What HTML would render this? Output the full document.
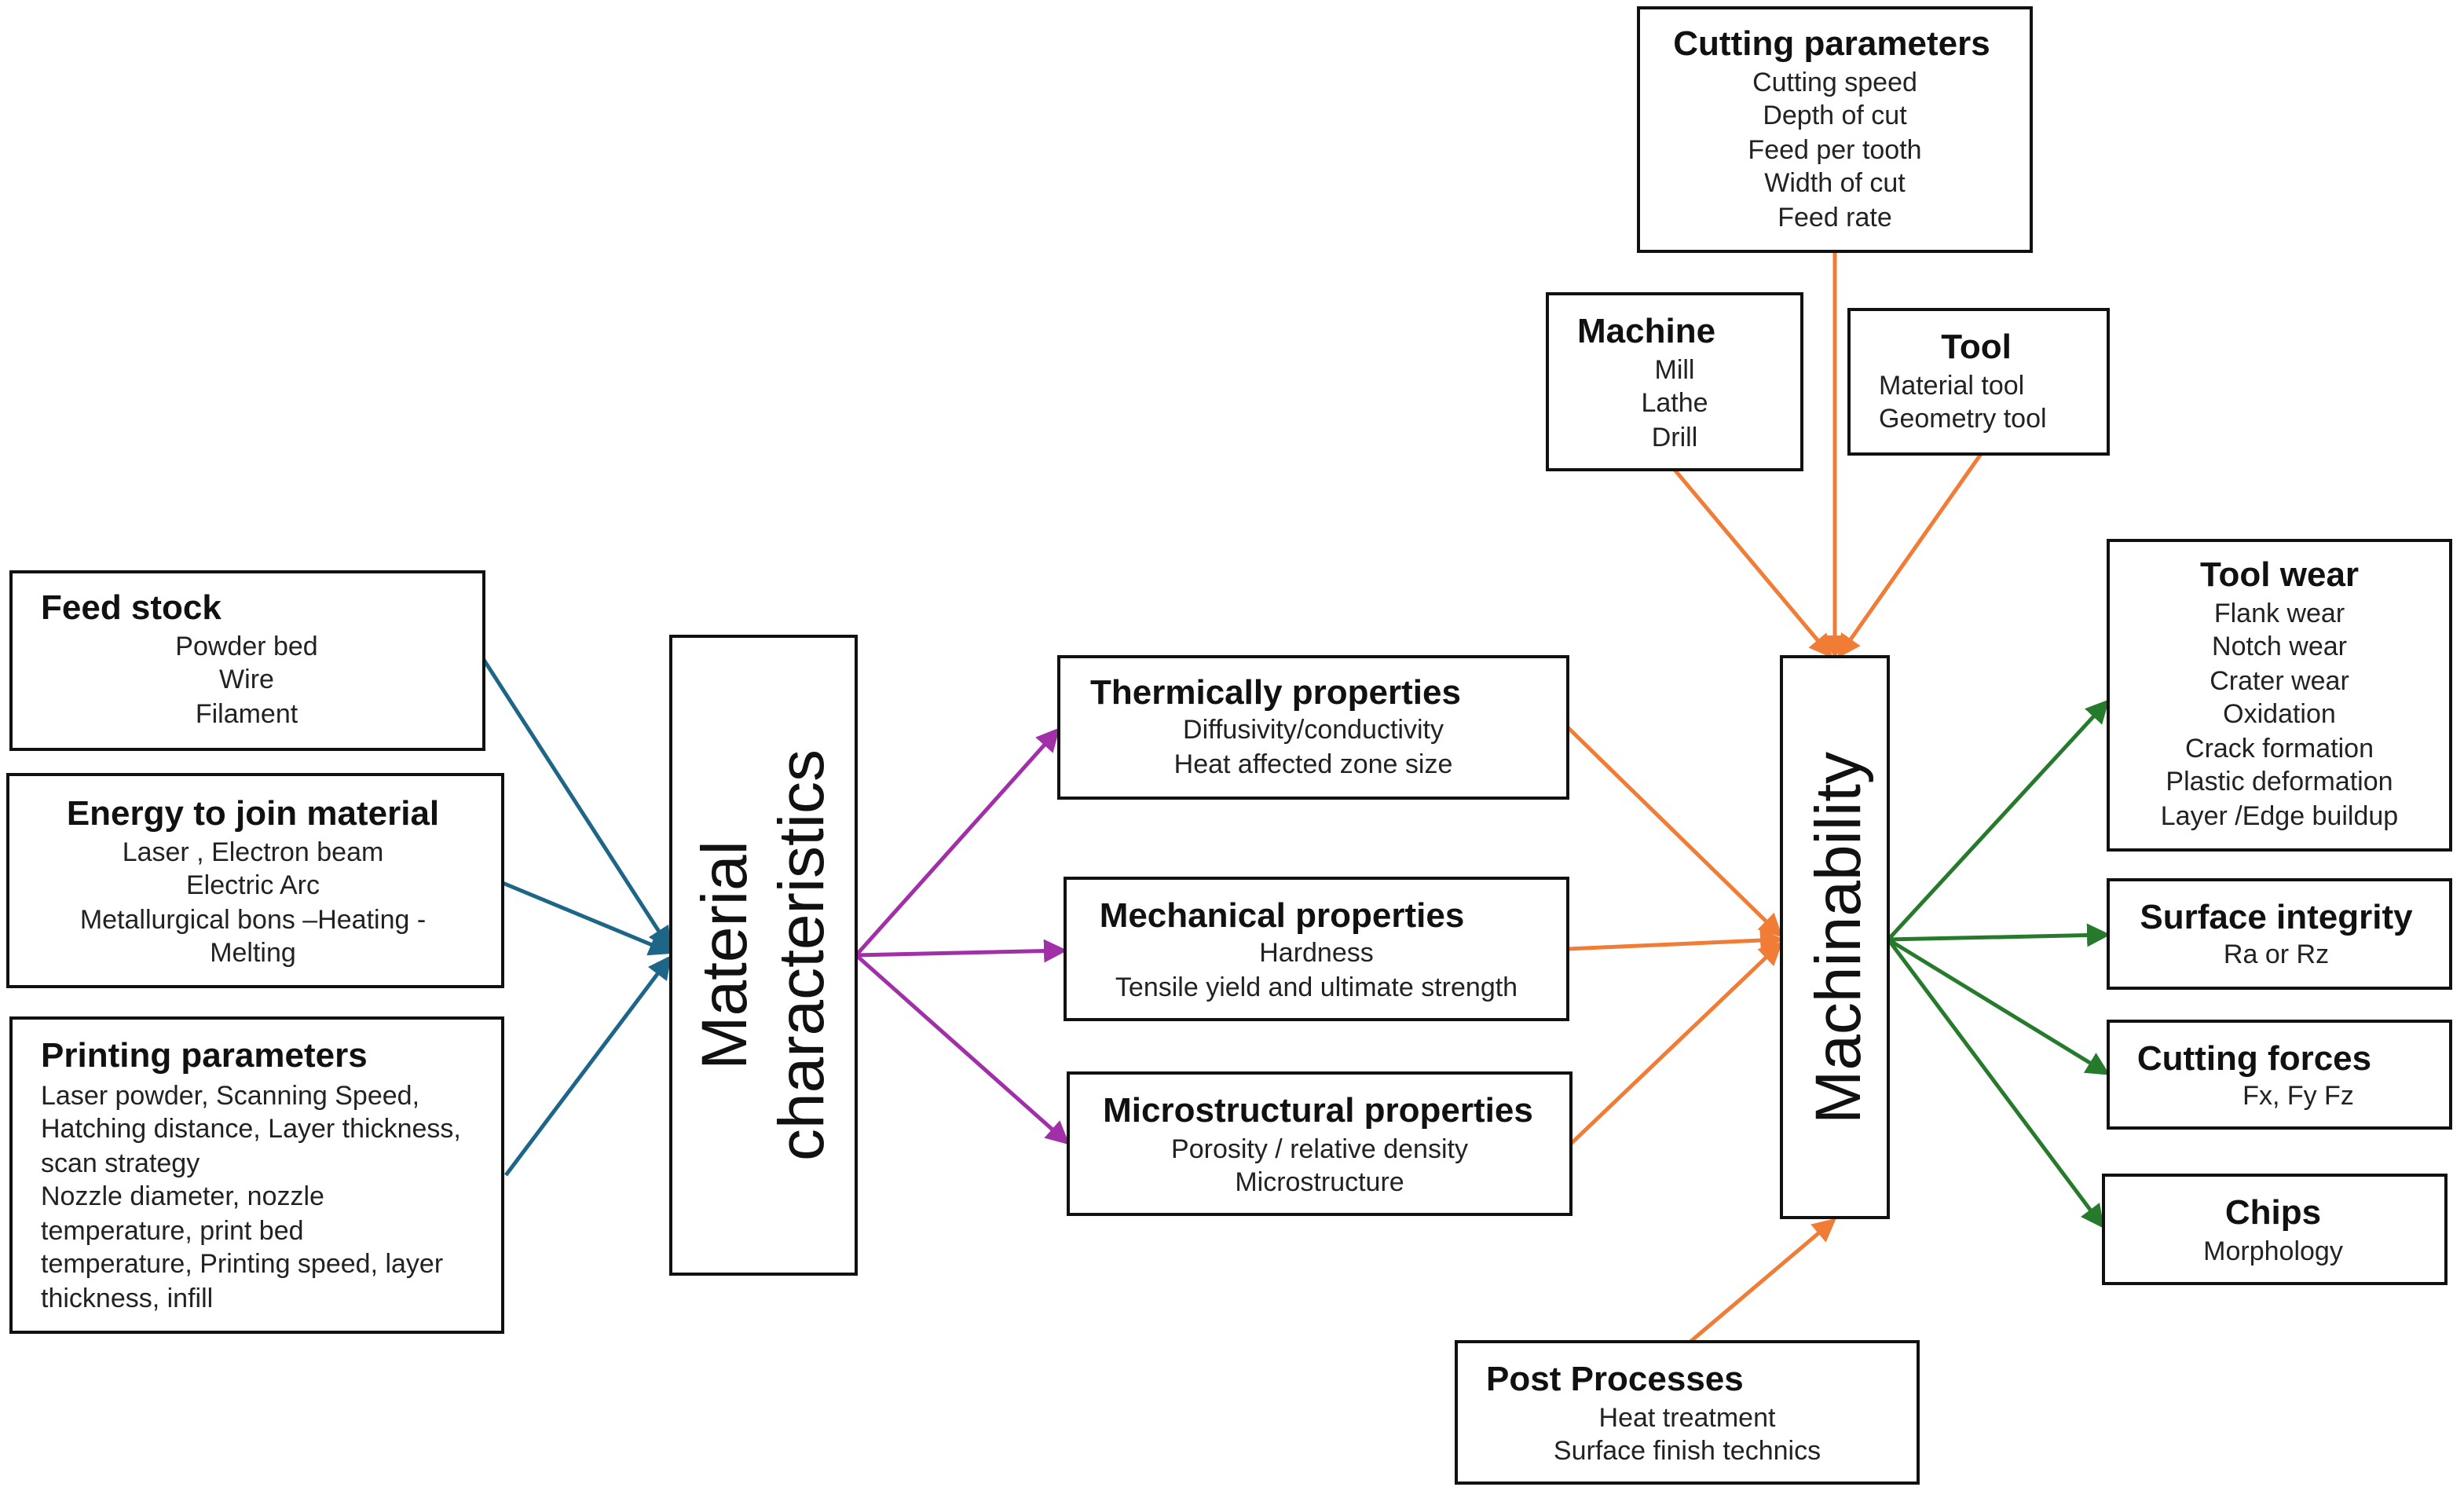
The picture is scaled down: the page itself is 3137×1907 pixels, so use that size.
<!DOCTYPE html>
<html><head><meta charset="utf-8"><style>
html,body{margin:0;padding:0;background:#fff}
svg{display:block}
text{font-family:"Liberation Sans",sans-serif;fill:#111}
.t{font-weight:bold;font-size:44px}
.b{font-size:34px;fill:#222}
.c{text-anchor:middle}
.r{fill:#fff;stroke:#111;stroke-width:4}
</style></head><body>
<svg width="3137" height="1907" viewBox="0 0 3137 1907" xmlns="http://www.w3.org/2000/svg">
<defs>
<marker id="mb" markerWidth="6" markerHeight="6" refX="5" refY="3" orient="auto" markerUnits="strokeWidth"><path d="M0,0 L6,3 L0,6 z" fill="#1d6687"/></marker>
<marker id="mp" markerWidth="6" markerHeight="6" refX="5" refY="3" orient="auto" markerUnits="strokeWidth"><path d="M0,0 L6,3 L0,6 z" fill="#a12fa8"/></marker>
<marker id="mo" markerWidth="6" markerHeight="6" refX="5" refY="3" orient="auto" markerUnits="strokeWidth"><path d="M0,0 L6,3 L0,6 z" fill="#f07c36"/></marker>
<marker id="mg" markerWidth="6" markerHeight="6" refX="5" refY="3" orient="auto" markerUnits="strokeWidth"><path d="M0,0 L6,3 L0,6 z" fill="#267a2c"/></marker>
</defs>
<g stroke="#1d6687" stroke-width="5" fill="none" marker-end="url(#mb)">
<line x1="616" y1="840" x2="852" y2="1206"/>
<line x1="640" y1="1124" x2="852" y2="1212"/>
<line x1="644" y1="1496" x2="852" y2="1220"/>
</g>
<g stroke="#a12fa8" stroke-width="5" fill="none" marker-end="url(#mp)">
<line x1="1090" y1="1216" x2="1346" y2="930"/>
<line x1="1090" y1="1216" x2="1354" y2="1210"/>
<line x1="1090" y1="1216" x2="1358" y2="1454"/>
</g>
<g stroke="#f07c36" stroke-width="5" fill="none" marker-end="url(#mo)">
<line x1="1996" y1="926" x2="2266" y2="1190"/>
<line x1="1996" y1="1208" x2="2266" y2="1196"/>
<line x1="2000" y1="1456" x2="2266" y2="1202"/>
<line x1="2132" y1="598" x2="2330" y2="834"/>
<line x1="2336" y1="320" x2="2336" y2="834"/>
<line x1="2522" y1="578" x2="2342" y2="834"/>
<line x1="2152" y1="1708" x2="2334" y2="1554"/>
</g>
<g stroke="#267a2c" stroke-width="5" fill="none" marker-end="url(#mg)">
<line x1="2404" y1="1196" x2="2682" y2="894"/>
<line x1="2404" y1="1196" x2="2682" y2="1190"/>
<line x1="2404" y1="1196" x2="2682" y2="1366"/>
<line x1="2404" y1="1196" x2="2676" y2="1560"/>
</g>
<rect class="r" x="14" y="728" width="602" height="226"/>
<rect class="r" x="10" y="986" width="630" height="270"/>
<rect class="r" x="14" y="1296" width="626" height="400"/>
<rect class="r" x="854" y="810" width="236" height="812"/>
<rect class="r" x="1348" y="836" width="648" height="180"/>
<rect class="r" x="1356" y="1118" width="640" height="180"/>
<rect class="r" x="1360" y="1366" width="640" height="180"/>
<rect class="r" x="2268" y="836" width="136" height="714"/>
<rect class="r" x="2086" y="10" width="500" height="310"/>
<rect class="r" x="1970" y="374" width="324" height="224"/>
<rect class="r" x="2354" y="394" width="330" height="184"/>
<rect class="r" x="2684" y="688" width="436" height="394"/>
<rect class="r" x="2684" y="1120" width="436" height="138"/>
<rect class="r" x="2684" y="1300" width="436" height="136"/>
<rect class="r" x="2678" y="1496" width="436" height="138"/>
<rect class="r" x="1854" y="1708" width="588" height="180"/>

<text class="t" x="52" y="788">Feed stock</text>
<text class="b c" x="314" y="834">Powder bed</text><text class="b c" x="314" y="876">Wire</text><text class="b c" x="314" y="920">Filament</text>

<text class="t c" x="322" y="1050">Energy to join material</text>
<text class="b c" x="322" y="1096">Laser , Electron beam</text>
<text class="b c" x="322" y="1138">Electric Arc</text>
<text class="b c" x="322" y="1182">Metallurgical bons –Heating -</text>
<text class="b c" x="322" y="1224">Melting</text>

<text class="t" x="52" y="1358">Printing parameters</text>
<text class="b" x="52" y="1406">Laser powder, Scanning Speed,</text>
<text class="b" x="52" y="1448">Hatching distance, Layer thickness,</text>
<text class="b" x="52" y="1492">scan strategy</text>
<text class="b" x="52" y="1534">Nozzle diameter, nozzle</text>
<text class="b" x="52" y="1578">temperature, print bed</text>
<text class="b" x="52" y="1620">temperature, Printing speed, layer</text>
<text class="b" x="52" y="1664">thickness, infill</text>

<g transform="translate(972,1216) rotate(-90)">
<text class="c" x="0" y="-22" style="font-size:82px">Material</text>
<text class="c" x="0" y="76" style="font-size:82px">characteristics</text>
</g>
<g transform="translate(2338,1194) rotate(-90)">
<text class="c" x="0" y="30" style="font-size:82px">Machinability</text>
</g>

<text class="t c" x="1624" y="896">Thermically properties</text>
<text class="b c" x="1672" y="940">Diffusivity/conductivity</text>
<text class="b c" x="1672" y="984">Heat affected zone size</text>

<text class="t c" x="1632" y="1180">Mechanical properties</text>
<text class="b c" x="1676" y="1224">Hardness</text>
<text class="b c" x="1676" y="1268">Tensile yield and ultimate strength</text>

<text class="t c" x="1678" y="1428">Microstructural properties</text>
<text class="b c" x="1680" y="1474">Porosity / relative density</text>
<text class="b c" x="1680" y="1516">Microstructure</text>

<text class="t c" x="2332" y="70">Cutting parameters</text>
<text class="b c" x="2336" y="116">Cutting speed</text>
<text class="b c" x="2336" y="158">Depth of cut</text>
<text class="b c" x="2336" y="202">Feed per tooth</text>
<text class="b c" x="2336" y="244">Width of cut</text>
<text class="b c" x="2336" y="288">Feed rate</text>

<text class="t" x="2008" y="436">Machine</text>
<text class="b c" x="2132" y="482">Mill</text>
<text class="b c" x="2132" y="524">Lathe</text>
<text class="b c" x="2132" y="568">Drill</text>

<text class="t c" x="2516" y="456">Tool</text>
<text class="b" x="2392" y="502">Material tool</text>
<text class="b" x="2392" y="544">Geometry tool</text>

<text class="t c" x="2902" y="746">Tool wear</text>
<text class="b c" x="2902" y="792">Flank wear</text>
<text class="b c" x="2902" y="834">Notch wear</text>
<text class="b c" x="2902" y="878">Crater wear</text>
<text class="b c" x="2902" y="920">Oxidation</text>
<text class="b c" x="2902" y="964">Crack formation</text>
<text class="b c" x="2902" y="1006">Plastic deformation</text>
<text class="b c" x="2902" y="1050">Layer /Edge buildup</text>

<text class="t c" x="2898" y="1182">Surface integrity</text>
<text class="b c" x="2898" y="1226">Ra or Rz</text>

<text class="t c" x="2870" y="1362">Cutting forces</text>
<text class="b c" x="2926" y="1406">Fx, Fy Fz</text>

<text class="t c" x="2894" y="1558">Chips</text>
<text class="b c" x="2894" y="1604">Morphology</text>

<text class="t" x="1892" y="1770">Post Processes</text>
<text class="b c" x="2148" y="1816">Heat treatment</text>
<text class="b c" x="2148" y="1858">Surface finish technics</text>
</svg>
</body></html>
